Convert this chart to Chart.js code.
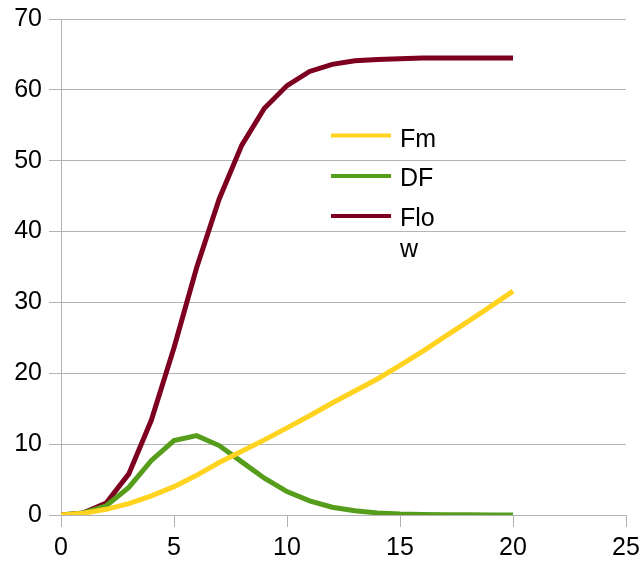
<!DOCTYPE html>
<html>
<head>
<meta charset="utf-8">
<script src="https://cdn.jsdelivr.net/npm/chart.js@4"></script>
<style>
  html, body { margin: 0; padding: 0; background: #fff; }
  #wrap { width: 640px; height: 562px; }
</style>
</head>
<body>
<div id="wrap"><canvas id="graph"></canvas></div>
<script>
// valeurs
var xs = [0, 1, 2, 3, 4, 5, 6, 7, 8, 9, 10, 11, 12, 13, 14, 15, 16, 17, 18, 19, 20];
var fm = [0, 0.25, 0.8, 1.6, 2.7, 4.0, 5.6, 7.4, 9.0, 10.6, 12.3, 14.0, 15.8, 17.5, 19.2, 21.1, 23.1, 25.2, 27.3, 29.4, 31.6];
var df = [0, 0.3, 1.3, 3.9, 7.7, 10.5, 11.2, 9.8, 7.5, 5.2, 3.3, 2.0, 1.1, 0.6, 0.3, 0.15, 0.08, 0.04, 0.02, 0.01, 0.0];
var flow = [0, 0.3, 1.7, 5.8, 13.4, 23.6, 34.9, 44.6, 52.2, 57.4, 60.6, 62.6, 63.6, 64.1, 64.3, 64.4, 64.5, 64.5, 64.5, 64.5, 64.5];
var seriesNames = ['Fm', 'DF', 'Flow'];
var legendLines = [['Fm'], ['DF'], ['Flo', 'w']];
var xTicks = [0, 5, 10, 15, 20, 25];
var yTicks = [0, 10, 20, 30, 40, 50, 60, 70];

var couleurs = ['#ffd320', '#579d1c', '#7e0021'];
var grille = '#b3b3b3';
var police = '"Liberation Sans", Arial, sans-serif';

function points(ys) {
    return xs.map(function (x, i) { return { x: x, y: ys[i] }; });
}

// legende dessinee a la main (texte sur deux lignes pour Flow)
var legendeMaison = {
    id: 'legendeMaison',
    afterDraw: function (chart) {
        var ctx = chart.ctx;
        var ligneY = [135.5, 176, 216];
        var baseY = [146.5, 186, 226];
        ctx.save();
        ctx.font = '25px ' + police;
        ctx.textBaseline = 'alphabetic';
        ctx.fillStyle = '#000';
        legendLines.forEach(function (lignes, i) {
            ctx.strokeStyle = couleurs[i];
            ctx.lineWidth = 4;
            ctx.beginPath();
            ctx.moveTo(331, ligneY[i]);
            ctx.lineTo(391, ligneY[i]);
            ctx.stroke();
            lignes.forEach(function (t, k) {
                ctx.fillText(t, 400, baseY[i] + k * 31);
            });
        });
        ctx.restore();
    }
};

var ctx = document.getElementById('graph').getContext('2d');
var myChart = new Chart(ctx, {
    type: 'line',
    data: {
        datasets: [fm, df, flow].map(function (serie, i) {
            return {
                label: seriesNames[i],
                data: points(serie),
                borderColor: couleurs[i],
                backgroundColor: couleurs[i],
                borderWidth: 5,
                pointRadius: 0,
                tension: 0,
                fill: false
            };
        })
    },
    options: {
        responsive: true,
        maintainAspectRatio: false,
        animation: false,
        layout: { padding: { top: 19, right: 14, left: 0, bottom: 0 } },
        plugins: {
            legend: { display: false },
            tooltip: { enabled: false }
        },
        scales: {
            x: {
                type: 'linear',
                min: 0,
                max: 25,
                afterBuildTicks: function (s) { s.ticks = xTicks.map(function (v) { return { value: v }; }); },
                grid: { drawOnChartArea: false, color: grille, tickLength: 12, lineWidth: 1 },
                border: { color: grille },
                ticks: { color: '#000', font: { size: 25, family: police }, padding: 6, maxRotation: 0 },
                afterFit: function (s) { s.height = 47; s.paddingLeft = 0; s.paddingRight = 0; }
            },
            y: {
                min: 0,
                max: 70,
                afterBuildTicks: function (s) { s.ticks = yTicks.map(function (v) { return { value: v }; }); },
                grid: { color: grille, tickLength: 12, lineWidth: 1 },
                border: { color: grille },
                ticks: { color: '#000', font: { size: 25, family: police }, padding: 7 },
                afterFit: function (s) { s.width = 61; s.paddingTop = 0; s.paddingBottom = 0; }
            }
        }
    },
    plugins: [legendeMaison]
});
</script>
</body>
</html>
